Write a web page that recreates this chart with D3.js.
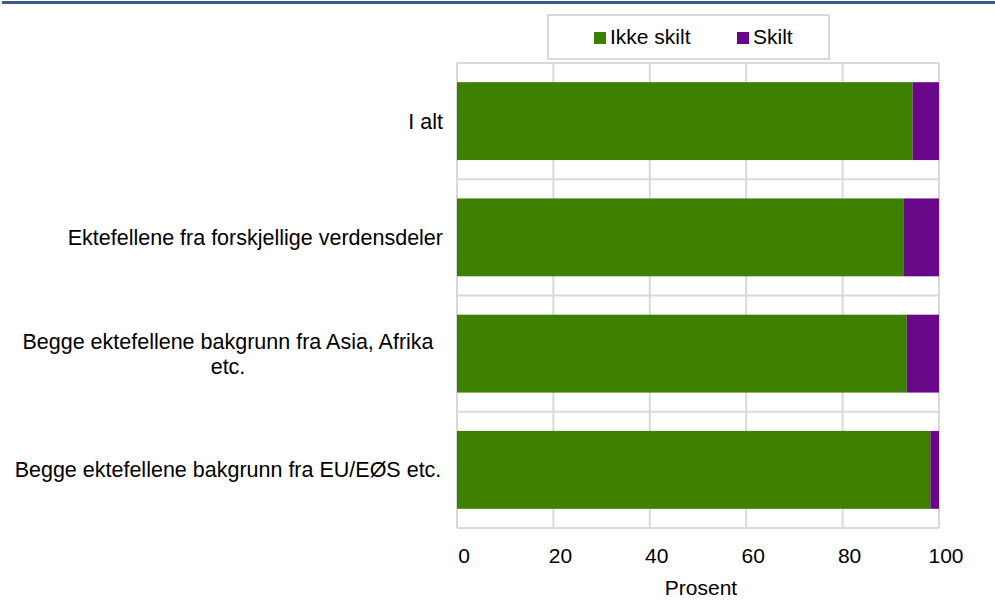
<!DOCTYPE html>
<html>
<head>
<meta charset="utf-8">
<script src="https://cdn.jsdelivr.net/npm/d3@7"></script>
<style>
    html, body { margin: 0; padding: 0; background: #fff; }
    svg { display: block; font-family: "Liberation Sans", Arial, sans-serif; }
</style>
</head>
<body>
<svg id="chart" width="995" height="607"></svg>
<script>
// Categories top to bottom; "\n" marks the line break in the axis label
const CATEGORIES = [
    'I alt',
    'Ektefellene fra forskjellige verdensdeler',
    'Begge ektefellene bakgrunn fra Asia, Afrika\netc.',
    'Begge ektefellene bakgrunn fra EU/EØS etc.',
];
const SERIES = ['Ikke skilt', 'Skilt'];
const IKKE_SKILT = [94.5, 92.6, 93.3, 98.2];
const SKILT = [5.5, 7.4, 6.7, 1.8];
const X_TICKS = [0, 20, 40, 60, 80, 100];
const X_TITLE = 'Prosent';

const COLORS = ['#3d8000', '#680889'];
const GRID = '#d9d9d9';

const svg = d3.select('#chart');
const margin = { top: 63, right: 56, bottom: 79, left: 457 };
const W = 995, H = 607;
const width = W - margin.left - margin.right;
const height = H - margin.top - margin.bottom;

// Top rule
svg.append('rect')
    .attr('x', 2).attr('y', 1).attr('width', W - 2).attr('height', 3)
    .attr('fill', '#3f5a8a');

const g = svg.append('g').attr('transform', `translate(${margin.left},${margin.top})`);

const x = d3.scaleLinear().domain([0, 100]).range([0, width]);
const y = d3.scaleBand().domain(CATEGORIES).range([0, height])
    .paddingInner(0.33).paddingOuter(0.165);

const rows = CATEGORIES.map((c, i) => ({ cat: c, 'Ikke skilt': IKKE_SKILT[i], 'Skilt': SKILT[i] }));
const stack = d3.stack().keys(SERIES)(rows);

// Vertical gridlines
g.append('g')
    .selectAll('line')
    .data(X_TICKS)
    .join('line')
    .attr('x1', d => x(d)).attr('x2', d => x(d))
    .attr('y1', 0).attr('y2', height)
    .attr('stroke', GRID).attr('stroke-width', 2);

// Horizontal lines at category boundaries
const step = y.step();
const bounds = CATEGORIES.map(c => y(c) - (step - y.bandwidth()) / 2).concat([height]);
g.append('g')
    .selectAll('line')
    .data(bounds)
    .join('line')
    .attr('x1', 0).attr('x2', width)
    .attr('y1', d => d).attr('y2', d => d)
    .attr('stroke', GRID).attr('stroke-width', 2);

// Bars
g.selectAll('.layer')
    .data(stack)
    .join('g')
    .attr('fill', (d, i) => COLORS[i])
    .selectAll('rect')
    .data(d => d)
    .join('rect')
    .attr('x', d => x(d[0]))
    .attr('width', d => x(d[1]) - x(d[0]))
    .attr('y', d => y(d.data.cat))
    .attr('height', y.bandwidth());

// X tick labels
g.append('g')
    .selectAll('text')
    .data(X_TICKS)
    .join('text')
    .attr('x', d => x(d) + 7)
    .attr('y', height + 35)
    .attr('text-anchor', 'middle')
    .attr('font-size', '21px')
    .attr('fill', '#000')
    .text(d => d);

g.append('text')
    .attr('x', width / 2 + 3)
    .attr('y', height + 67)
    .attr('text-anchor', 'middle')
    .attr('font-size', '21px')
    .attr('fill', '#000')
    .text(X_TITLE);

// Category labels
const labelRight = -14;
const lineH = 25;
CATEGORIES.forEach(c => {
    const lines = c.split('\n');
    const cy = y(c) + y.bandwidth() / 2;
    const t = g.append('text')
        .attr('font-size', '21.5px')
        .attr('fill', '#000');
    lines.forEach((ln, i) => {
        t.append('tspan')
            .attr('y', cy + 7.5 + (i - (lines.length - 1) / 2) * lineH)
            .text(ln);
    });
    const maxW = d3.max(t.selectAll('tspan').nodes(), n => n.getComputedTextLength());
    if (maxW > 400) {
        t.attr('text-anchor', 'middle');
        t.selectAll('tspan').attr('x', -229);
    } else {
        t.attr('text-anchor', 'end');
        t.selectAll('tspan').attr('x', labelRight);
    }
});

// Legend
const legend = svg.append('g').attr('transform', 'translate(548,15)');
legend.append('rect')
    .attr('width', 281).attr('height', 44)
    .attr('fill', '#fff').attr('stroke', GRID).attr('stroke-width', 2);
const itemX = [46, 189];
SERIES.forEach((s, i) => {
    const it = legend.append('g').attr('transform', `translate(${itemX[i]},0)`);
    it.append('rect')
        .attr('x', 0).attr('y', 17).attr('width', 12).attr('height', 12)
        .attr('fill', COLORS[i]);
    it.append('text')
        .attr('x', 16).attr('y', 29)
        .attr('font-size', '21px')
        .attr('fill', '#000')
        .text(s);
});
</script>
</body>
</html>
